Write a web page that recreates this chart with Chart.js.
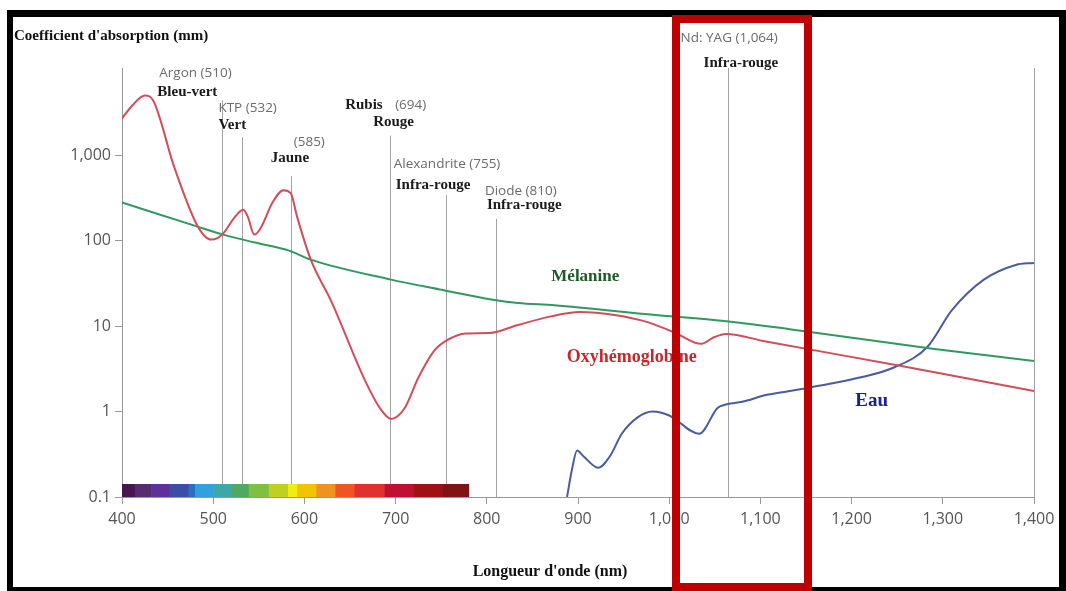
<!DOCTYPE html>
<html>
<head>
<meta charset="utf-8">
<script src="https://cdn.jsdelivr.net/npm/chart.js@4"></script>
<style>
  html, body { margin: 0; padding: 0; background: #fff; }
  canvas { display: block; }
</style>
</head>
<body>
<canvas id="chart" width="1066" height="591"></canvas>
<script>
// Oxyhémoglobine (nm / coefficient)
const oxyNm = [400, 412, 425, 434, 457, 480, 490, 498, 505, 512, 523, 533, 538, 545, 552, 565, 577, 585, 592, 607, 630, 665, 683, 695, 710, 725, 742, 756, 777, 803, 834, 870, 902, 940, 978, 1008, 1035, 1049, 1062, 1106, 1256, 1400];
const oxyCoef = [2700, 3900, 5000, 4400, 740, 170, 115, 103, 108, 125, 185, 230, 190, 118, 140, 280, 390, 360, 190, 60, 19, 2.5, 1.09, 0.82, 1.1, 2.5, 5.1, 6.8, 8.2, 8.3, 10.3, 13, 14.6, 13.5, 11, 8.2, 6.2, 7.4, 8.1, 6.6, 3.4, 1.74];

// Mélanine
const melNm = [400, 482, 512, 546, 584, 607, 695, 755, 805, 834, 874, 985, 1060, 1132, 1291, 1400];
const melCoef = [280, 147, 117, 95, 76, 60, 35, 26, 20.5, 18.7, 17.5, 13.5, 11.5, 9.2, 5.4, 3.9];

// Eau
const waterNm = [888, 893, 899, 906, 922, 935, 948, 965, 982, 1000, 1033, 1053, 1061, 1080, 1106, 1132, 1209, 1247, 1283, 1310, 1345, 1380, 1400];
const waterCoef = [0.1, 0.2, 0.35, 0.3, 0.22, 0.3, 0.55, 0.85, 1.0, 0.9, 0.55, 1.1, 1.2, 1.3, 1.56, 1.74, 2.5, 3.3, 5.7, 15.4, 35, 52, 55];

// Lasers
const laserNm = [510, 532, 585, 694, 755, 810, 1064];
const laserTop = [4400, 1630, 570, 1700, 340, 180, 10500];
const laserNames = ['Argon (510)', 'KTP (532)', '(585)', '(694)', 'Alexandrite (755)', 'Diode (810)', 'Nd: YAG (1,064)'];
const laserBands = ['Bleu-vert', 'Vert', 'Jaune', 'Rouge', 'Infra-rouge', 'Infra-rouge', 'Infra-rouge'];

// visible spectrum strip
const spectrumEdges = [400, 414, 432, 452, 473, 480, 500, 520, 539, 561, 582, 592, 613, 634, 655, 688, 720, 751, 780];
const spectrumColors = ['#4a1452', '#582a70', '#5f309c', '#3a4ea8', '#2a70c2', '#32a0de', '#3ea8a8', '#50a862', '#80c040', '#bfd022', '#f0ee10', '#f0c400', '#f09222', '#f05424', '#e03030', '#c01032', '#a01212', '#801414'];

const yTickValues = [0.1, 1, 10, 100, 1000];

const toPoints = (xs, ys) => xs.map((x, i) => ({ x: x, y: ys[i] }));

// label offsets (px) from the top of each laser line: [greyDx, greyDy, boldDx, boldDy]
const laserLabelOffsets = [
  [-63, -27, -65, -8],
  [-24, -29, -24, -12],
  [3, -34, -20, -18],
  [5, -30, -17, -13],
  [-52, -31, -50, -10],
  [-11, -28, -9, -14],
  [-47, -30, -24, -5]
];

const serif = "'Liberation Serif', 'DejaVu Serif', serif";
const sans = "'Open Sans', 'Noto Sans', sans-serif";

const decor = {
  id: 'decor',
  beforeDatasetsDraw(chart) {
    const ctx = chart.ctx;
    const xs = chart.scales.x;
    const ys = chart.scales.y;
    const area = chart.chartArea;
    ctx.save();
    // laser lines + right edge
    ctx.strokeStyle = '#a3a3a3';
    ctx.lineWidth = 1;
    for (let i = 0; i < laserNm.length; i += 1) {
      const px = Math.round(xs.getPixelForValue(laserNm[i])) + 0.5;
      ctx.beginPath();
      ctx.moveTo(px, ys.getPixelForValue(laserTop[i]));
      ctx.lineTo(px, area.bottom);
      ctx.stroke();
    }
    ctx.beginPath();
    ctx.moveTo(Math.round(area.right) + 0.5, area.top);
    ctx.lineTo(Math.round(area.right) + 0.5, area.bottom);
    ctx.stroke();
    // spectrum strip
    for (let i = 0; i < spectrumColors.length; i += 1) {
      const x0 = xs.getPixelForValue(spectrumEdges[i]);
      const x1 = xs.getPixelForValue(spectrumEdges[i + 1]);
      ctx.fillStyle = spectrumColors[i];
      ctx.fillRect(x0, area.bottom - 13, x1 - x0 + 0.6, 13);
    }
    ctx.restore();
  },
  afterDraw(chart) {
    const ctx = chart.ctx;
    const xs = chart.scales.x;
    const ys = chart.scales.y;
    ctx.save();
    ctx.textBaseline = 'middle';
    ctx.textAlign = 'left';
    // laser labels
    for (let i = 0; i < laserNm.length; i += 1) {
      const px = xs.getPixelForValue(laserNm[i]);
      const py = ys.getPixelForValue(laserTop[i]);
      const o = laserLabelOffsets[i];
      ctx.fillStyle = '#6b6b6b';
      ctx.font = '13.5px ' + sans;
      ctx.fillText(laserNames[i], px + o[0], py + o[1]);
      ctx.fillStyle = '#1a1a1a';
      ctx.font = 'bold 15px ' + serif;
      ctx.fillText(laserBands[i], px + o[2], py + o[3]);
    }
    const rx = xs.getPixelForValue(694);
    const ry = ys.getPixelForValue(1700);
    ctx.fillText('Rubis', rx - 45, ry - 30);

    // curve labels
    ctx.textAlign = 'center';
    ctx.font = 'bold 17px ' + serif;
    ctx.fillStyle = '#1f5a28';
    ctx.fillText('Mélanine', xs.getPixelForValue(908), ys.getPixelForValue(37.7));
    ctx.font = 'bold 18px ' + serif;
    ctx.fillStyle = '#c4282f';
    ctx.fillText('Oxyhémoglobine', xs.getPixelForValue(959), ys.getPixelForValue(4.35));
    ctx.font = 'bold 19px ' + serif;
    ctx.fillStyle = '#1c2096';
    ctx.fillText('Eau', xs.getPixelForValue(1222), ys.getPixelForValue(1.32));

    // axis titles
    ctx.fillStyle = '#111';
    ctx.textAlign = 'left';
    ctx.font = 'bold 15px ' + serif;
    ctx.fillText("Coefficient d'absorption (mm)", 14, 36);
    ctx.textAlign = 'center';
    ctx.font = 'bold 16px ' + serif;
    ctx.fillText("Longueur d'onde (nm)", 550, 572);

    // black frame
    ctx.fillStyle = '#000';
    ctx.fillRect(7, 10, 1059, 7);
    ctx.fillRect(7, 10, 6, 581);
    ctx.fillRect(1059, 10, 7, 581);
    ctx.fillRect(7, 587, 1059, 4);

    // red highlight box
    ctx.strokeStyle = '#c00000';
    ctx.lineWidth = 8;
    ctx.strokeRect(676, 19, 132, 568);
    ctx.restore();
  }
};

new Chart(document.getElementById('chart'), {
  type: 'line',
  data: {
    datasets: [
      {
        label: 'Oxyhémoglobine',
        data: toPoints(oxyNm, oxyCoef),
        borderColor: '#d24d5a',
        borderWidth: 2,
        pointRadius: 0,
        cubicInterpolationMode: 'monotone',
        fill: false
      },
      {
        label: 'Mélanine',
        data: toPoints(melNm, melCoef),
        borderColor: '#2e9a5e',
        borderWidth: 2,
        pointRadius: 0,
        cubicInterpolationMode: 'monotone',
        fill: false
      },
      {
        label: 'Eau',
        data: toPoints(waterNm, waterCoef),
        borderColor: '#4a5c9e',
        borderWidth: 2,
        pointRadius: 0,
        cubicInterpolationMode: 'monotone',
        fill: false
      }
    ]
  },
  options: {
    responsive: false,
    animation: false,
    devicePixelRatio: 1,
    layout: { padding: { top: 68, right: 32, bottom: 0, left: 0 } },
    plugins: {
      legend: { display: false },
      title: { display: false },
      tooltip: { enabled: false }
    },
    scales: {
      x: {
        type: 'linear',
        min: 400,
        max: 1400,
        afterFit: function (s) { s.height = 94; },
        grid: { drawOnChartArea: false, color: '#999', tickLength: 7 },
        border: { color: '#999' },
        ticks: {
          stepSize: 100,
          color: '#555',
          padding: 6,
          maxRotation: 0,
          font: { family: sans, size: 16 },
          callback: function (v) { return v.toLocaleString('en-US'); }
        }
      },
      y: {
        type: 'logarithmic',
        min: 0.1,
        max: 10500,
        afterFit: function (s) { s.width = 122; },
        afterBuildTicks: function (s) {
          s.ticks = yTickValues.map(v => ({ value: v }));
        },
        grid: { drawOnChartArea: false, color: '#999', tickLength: 7 },
        border: { color: '#999' },
        ticks: {
          color: '#555',
          padding: 4,
          font: { family: sans, size: 16 },
          callback: function (v) { return v.toLocaleString('en-US'); }
        }
      }
    }
  },
  plugins: [decor]
});
</script>
</body>
</html>
